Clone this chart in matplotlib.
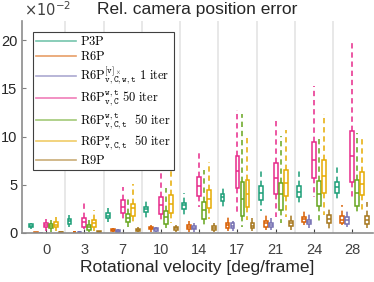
import matplotlib
matplotlib.use("Agg")
import matplotlib.pyplot as plt
from matplotlib.lines import Line2D

# rotational velocity groups
velocities = ["0", "3", "7", "10", "14", "17", "21", "24", "28"]

# per velocity: [lower whisker, q1, median, q3, upper whisker]  (x 1e-2)
p3p = [[0.41, 0.65, 0.75, 0.90, 1.06], [0.65, 0.93, 1.20, 1.41, 1.86],
       [1.17, 1.51, 1.75, 2.03, 2.55], [1.51, 2.20, 2.47, 2.71, 3.40],
       [1.86, 2.47, 2.89, 3.16, 4.16], [2.37, 3.33, 3.74, 4.09, 4.95],
       [2.30, 3.47, 4.20, 4.88, 6.42], [3.06, 3.74, 4.26, 4.88, 6.56],
       [3.24, 4.20, 4.79, 5.29, 7.19]]
r6p = [[0.00, 0.02, 0.04, 0.06, 0.10], [0.02, 0.06, 0.10, 0.15, 0.25],
       [0.08, 0.20, 0.30, 0.40, 0.55], [0.10, 0.38, 0.50, 0.65, 0.82],
       [0.10, 0.41, 0.60, 0.82, 1.27], [0.20, 0.48, 0.80, 1.00, 1.86],
       [0.30, 0.65, 1.05, 1.27, 2.20], [0.82, 1.17, 1.48, 1.68, 2.37],
       [0.82, 1.06, 1.40, 1.78, 2.89]]
r6p_1iter = [[0.00, 0.02, 0.03, 0.05, 0.08], [0.02, 0.05, 0.08, 0.12, 0.20],
             [0.05, 0.15, 0.22, 0.30, 0.40], [0.08, 0.25, 0.38, 0.50, 0.65],
             [0.10, 0.38, 0.55, 0.75, 1.00], [0.20, 0.48, 0.75, 1.00, 1.27],
             [0.30, 0.58, 0.85, 1.06, 1.51], [0.50, 0.90, 1.10, 1.34, 2.09],
             [0.62, 0.93, 1.30, 1.62, 2.55]]
r6p_wt_vc = [[0.20, 0.58, 0.80, 1.06, 1.41], [0.38, 0.65, 1.17, 1.58, 3.16],
             [1.34, 2.09, 2.71, 3.40, 4.78], [1.00, 1.96, 2.89, 3.74, 6.67],
             [2.71, 3.85, 4.88, 5.80, 8.63], [2.03, 4.67, 6.39, 8.04, 12.75],
             [1.68, 4.09, 5.74, 7.25, 11.80], [3.74, 5.70, 7.60, 9.48, 15.26],
             [3.74, 5.29, 7.97, 10.60, 19.90]]
r6p_wt_vct = [[0.15, 0.48, 0.70, 0.93, 1.34], [0.10, 0.31, 0.60, 0.82, 1.34],
              [0.65, 1.10, 1.51, 1.93, 3.74], [0.48, 0.90, 1.62, 2.27, 4.71],
              [0.48, 1.41, 2.37, 3.23, 6.49], [0.65, 1.75, 3.57, 5.29, 12.30],
              [1.00, 2.37, 4.09, 5.19, 10.10], [1.00, 2.82, 4.09, 5.40, 9.76],
              [1.86, 2.78, 4.20, 5.53, 10.40]]
r6p_w_vct = [[0.20, 0.58, 0.85, 1.17, 1.62], [0.20, 0.58, 1.00, 1.34, 2.37],
             [1.00, 1.75, 2.55, 3.06, 5.12], [1.00, 2.09, 3.06, 3.92, 6.56],
             [1.41, 2.61, 3.57, 4.50, 7.35], [1.34, 2.71, 4.09, 5.46, 10.10],
             [1.68, 3.81, 5.19, 6.56, 10.70], [1.86, 4.16, 5.90, 7.53, 12.30],
             [2.37, 3.92, 5.12, 6.32, 10.10]]
r9p = [[0.00, 0.03, 0.06, 0.10, 0.15], [0.02, 0.06, 0.10, 0.18, 0.25],
       [0.10, 0.20, 0.30, 0.45, 0.60], [0.10, 0.35, 0.50, 0.65, 0.82],
       [0.10, 0.31, 0.50, 0.72, 1.06], [0.20, 0.48, 0.70, 1.00, 1.51],
       [0.30, 0.72, 1.00, 1.24, 2.09], [0.38, 1.00, 1.41, 1.86, 2.78],
       [0.48, 0.90, 1.34, 1.75, 3.23]]

methods = [p3p, r6p, r6p_1iter, r6p_wt_vc, r6p_wt_vct, r6p_w_vct, r9p]
labels = [r"$\mathrm{P3P}$",
          r"$\mathrm{R6P}$",
          r"$\mathrm{R6P}^{[\mathtt{v}]_\times}_{\mathtt{v,C,w,t}}\ 1\ \mathrm{iter}$",
          r"$\mathrm{R6P}^{\mathtt{w,t}}_{\mathtt{v,C}}\ 50\ \mathrm{iter}$",
          r"$\mathrm{R6P}^{\mathtt{w,t}}_{\mathtt{v,C,t}}\ \ 50\ \mathrm{iter}$",
          r"$\mathrm{R6P}^{\mathtt{w}}_{\mathtt{v,C,t}}\ \ 50\ \mathrm{iter}$",
          r"$\mathrm{R9P}$"]
colors = ["#1b9e77", "#d95f02", "#7570b3", "#e7298a", "#66a61e", "#e6ab02", "#a6761d"]

plt.rcParams["font.family"] = ["Liberation Sans", "DejaVu Sans"]
plt.rcParams["mathtext.fontset"] = "cm"

W, H = 374, 282
fig = plt.figure(figsize=(W / 100, H / 100), dpi=100)
ax = fig.add_axes([22 / W, (H - 233) / H, (373 - 22) / W, (233 - 21) / H])

step = 0.13
for k, (m, c) in enumerate(zip(methods, colors)):
    stats = []
    for s in m:
        stats.append(dict(whislo=s[0], q1=s[1], med=s[2], q3=s[3], whishi=s[4], fliers=[]))
    pos = [g + 1 + (k - 3) * step for g in range(len(velocities))]
    ax.bxp(stats, positions=pos, widths=0.1, patch_artist=True,
           showcaps=False, showfliers=False, manage_ticks=False,
           boxprops=dict(facecolor="white", edgecolor=c, linewidth=1.1),
           medianprops=dict(color=c, linewidth=1.1),
           whiskerprops=dict(color=c, linewidth=1.1, linestyle=(0, (3.5, 2.5))))

for g in range(len(velocities) - 1):
    ax.axvline(g + 1.5, color="#e6e6e6", linewidth=1.3, zorder=0)

ax.set_xlim(0.37, 9.54)
ax.set_ylim(0, 22)
ax.set_xticks(range(1, len(velocities) + 1))
ax.set_xticklabels(velocities)
ax.set_yticks([0, 5, 10, 15, 20])
ax.tick_params(axis="both", labelsize=10.5, direction="in", length=3, colors="#808080",
               labelcolor="#262626")
ax.tick_params(axis="x", pad=7.5, colors="#404040")
ax.tick_params(axis="y", pad=3.5)
for sp in ["top", "right"]:
    ax.spines[sp].set_visible(False)
for sp in ["left", "bottom"]:
    ax.spines[sp].set_color("#8c8c8c")
    ax.spines[sp].set_linewidth(1.2)

ax.set_title("Rel. camera position error", fontsize=12.5, pad=5, color="#262626")
ax.set_xlabel("Rotational velocity [deg/frame]", fontsize=12.5, labelpad=2, color="#262626")
fig.text(24 / W, (H - 16) / H, r"$\times10^{-2}$", fontsize=10.5, color="#404040",
         math_fontfamily="dejavusans")

handles = [Line2D([], [], color=c, linewidth=1.2, alpha=0.6) for c in colors]
leg = ax.legend(handles, labels, loc="upper left", bbox_to_anchor=(33 / W, (H - 32) / H),
                bbox_transform=fig.transFigure, borderaxespad=0, fontsize=9,
                handlelength=3.2, handletextpad=0.35, labelspacing=0.15,
                borderpad=0.25, fancybox=False, framealpha=1)
leg.get_frame().set_edgecolor("#404040")
leg.get_frame().set_linewidth(0.8)

fig.savefig("out.png", dpi=100)
